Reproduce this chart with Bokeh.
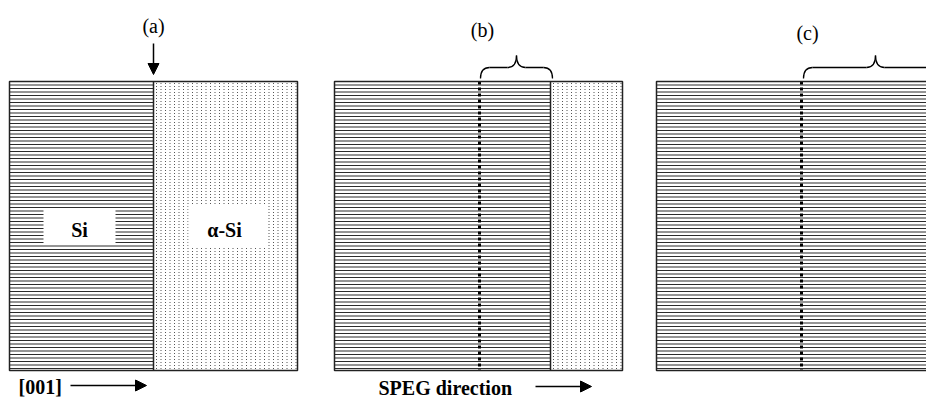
import numpy as np
from bokeh.plotting import figure
from bokeh.models import Range1d, Arrow, NormalHead, Label
from bokeh.embed import file_html
from bokeh.resources import INLINE

# ---- schematic description (reference-pixel coordinates) ----
panel_names = ["(a)", "(b)", "(c)"]
panel_left = [9, 334, 656]
panel_right = [297, 622, 960]
box_top, box_bottom = 81, 370
si_end = [153, 550, 960]          # end of crystalline (striped) region
dotted_front = [None, 479, 801]   # original interface marked by dotted line
title_x = [153, 482, 807]
title_y = [25, 29, 32]
line_pitch = 3.5
dot_dx, dot_dy = 4.5, 3.0

brace_left = [None, 480, 803]
brace_right = [None, 552, 947]

p = figure(width=926, height=397, output_backend="svg", toolbar_location=None,
           x_range=Range1d(0, 926), y_range=Range1d(397, 0),
           x_axis_type=None, y_axis_type=None, min_border=0)
p.outline_line_color = None
p.grid.visible = False
p.background_fill_color = "white"

SERIF = "Liberation Serif"

for i in range(3):
    L, R, S = panel_left[i], panel_right[i], si_end[i]
    # horizontal lattice lines in crystalline Si
    ys = np.arange(box_top + line_pitch, box_bottom - 1, line_pitch)
    p.segment(x0=[L] * len(ys), x1=[S] * len(ys), y0=ys, y1=ys,
              line_color="#2b2b2b", line_width=1)
    # amorphous dots
    if S < R:
        xs = np.arange(S + 3, R - 1, dot_dx)
        yd = np.arange(box_top + 2, box_bottom - 1, dot_dy)
        X, Y = np.meshgrid(xs, yd)
        p.rect(x=X.ravel(), y=Y.ravel(), width=1, height=1,
               fill_color="#555555", line_color=None)
        p.segment(x0=[S], x1=[S], y0=[box_top], y1=[box_bottom],
                  line_color="#222222", line_width=1.5)
    # dotted original interface
    if dotted_front[i] is not None:
        d = dotted_front[i]
        p.segment(x0=[d], x1=[d], y0=[box_top], y1=[box_bottom],
                  line_color="black", line_width=3, line_dash="3 3")
    # frame
    p.quad(left=[L], right=[R], top=[box_top], bottom=[box_bottom],
           fill_color=None, line_color="#222222", line_width=1.5)
    # panel title
    p.add_layout(Label(x=title_x[i], y=title_y[i], text=panel_names[i],
                       text_align="center", text_baseline="middle", text_color="black",
                       text_font=SERIF, text_font_size="20px"))
    # brace
    if brace_left[i] is not None:
        x0, x1 = brace_left[i], brace_right[i]
        xm = (x0 + x1) / 2
        yb, yf, yt, r = 78, 67, 55, 9
        p.quadratic(x0=[x0, xm - r, xm + r, x1], y0=[yb, yf, yf, yb],
                    x1=[x0 + r, xm, xm, x1 - r], y1=[yf, yt, yt, yf],
                    cx=[x0, xm, xm, x1], cy=[yf, yf, yf, yf],
                    line_color="black", line_width=1.3)
        p.segment(x0=[x0 + r, xm + r], x1=[xm - r, x1 - r], y0=[yf, yf], y1=[yf, yf],
                  line_color="black", line_width=1.3)

# white label boxes
p.quad(left=[43, 188], right=[115, 267], top=[208, 204], bottom=[244, 247],
       fill_color="white", line_color=None)
p.add_layout(Label(x=79, y=229, text="Si", text_align="center", text_baseline="middle",
                   text_color="black", text_font=SERIF, text_font_style="bold",
                   text_font_size="20px"))
p.add_layout(Label(x=224, y=229, text="α-Si", text_align="center", text_baseline="middle",
                   text_color="black", text_font=SERIF, text_font_style="bold",
                   text_font_size="20px"))

# interface arrow (a)
p.add_layout(Arrow(x_start=153, y_start=43, x_end=153, y_end=74, line_width=1.5,
                   end=NormalHead(size=11, fill_color="black", line_color="black")))

# bottom captions
p.add_layout(Label(x=18, y=386, text="[001]", text_align="left", text_baseline="middle",
                   text_color="black", text_font=SERIF, text_font_style="bold",
                   text_font_size="20px"))
p.add_layout(Arrow(x_start=70, y_start=385, x_end=146, y_end=385, line_width=1.5,
                   end=NormalHead(size=11, fill_color="black", line_color="black")))
p.add_layout(Label(x=378, y=387, text="SPEG direction", text_align="left",
                   text_baseline="middle", text_color="black", text_font=SERIF,
                   text_font_style="bold", text_font_size="20px"))
p.add_layout(Arrow(x_start=535, y_start=386, x_end=591, y_end=386, line_width=1.5,
                   end=NormalHead(size=11, fill_color="black", line_color="black")))

open("out.html", "w").write(file_html(p, INLINE))
